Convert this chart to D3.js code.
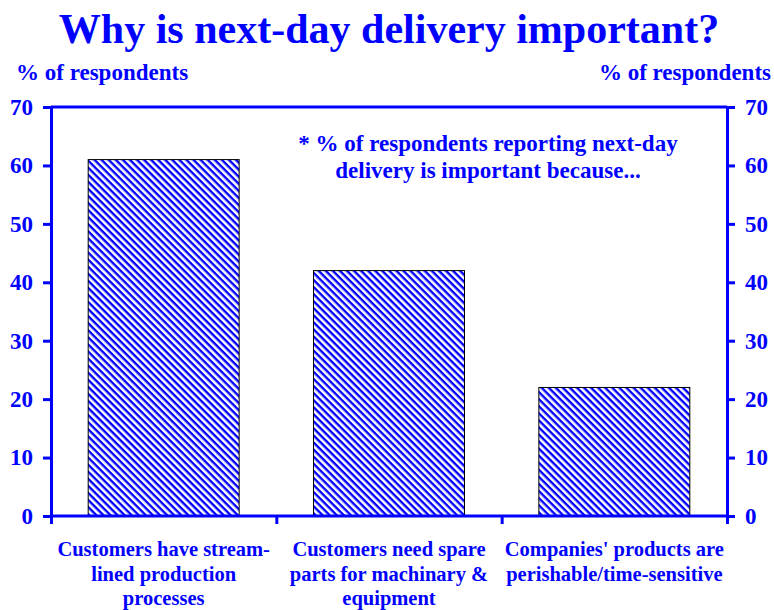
<!DOCTYPE html>
<html>
<head>
<meta charset="utf-8">
<script src="https://cdn.jsdelivr.net/npm/d3@7"></script>
<style>
  body { margin: 0; background: #fff; }
  text { font-family: "Liberation Serif", "Times New Roman", serif; font-weight: bold; fill: #0000ff; }
</style>
</head>
<body>
<svg id="chart" width="774" height="610"></svg>
<script>
"use strict"

const categories = [
    ["Customers have stream-", "lined production", "processes"],
    ["Customers need spare", "parts for machinary &", "equipment"],
    ["Companies' products are", "perishable/time-sensitive"]
]
const values = [61, 42, 22]
const yTicks = [0, 10, 20, 30, 40, 50, 60, 70]
const title = "Why is next-day delivery important?"
const note = ["* % of respondents reporting next-day", "delivery is important because..."]
const axisTitle = "% of respondents"

const blue = "#0000ff"
const svg = d3.select("#chart")
const m = { left: 51, right: 727, top: 107, bottom: 516 }

const x = d3.scaleBand()
    .domain(d3.range(values.length))
    .range([m.left, m.right])
    .paddingInner(0.33)
    .paddingOuter(0.165)

const y = d3.scaleLinear().domain([0, 70]).range([m.bottom, m.top])

// hatch pattern
const defs = svg.append("defs")
const pat = defs.append("pattern")
    .attr("id", "hatch")
    .attr("patternUnits", "userSpaceOnUse")
    .attr("width", 5).attr("height", 5)
    .attr("patternTransform", "rotate(45)")
pat.append("rect").attr("width", 5).attr("height", 5).attr("fill", "#fff")
pat.append("rect").attr("width", 5).attr("height", 2.4).attr("fill", blue)

// title
svg.append("text")
    .attr("x", 389).attr("y", 43)
    .attr("text-anchor", "middle")
    .style("font-size", "42px")
    .text(title)

svg.append("text").attr("x", 16).attr("y", 80)
    .style("font-size", "23px").text(axisTitle)
svg.append("text").attr("x", 771).attr("y", 80)
    .attr("text-anchor", "end")
    .style("font-size", "23px").text(axisTitle)

// bars
svg.append("g").selectAll("rect")
    .data(values)
    .join("rect")
    .attr("x", (d, i) => x(i))
    .attr("width", x.bandwidth())
    .attr("y", d => y(d))
    .attr("height", d => y(0) - y(d))
    .attr("fill", "url(#hatch)")
    .attr("stroke", "#000")
    .attr("stroke-width", 1)

// axes
const left = svg.append("g")
    .attr("transform", `translate(${m.left},0)`)
    .call(d3.axisLeft(y).tickValues(yTicks).tickSize(8).tickPadding(10))
const right = svg.append("g")
    .attr("transform", `translate(${m.right},0)`)
    .call(d3.axisRight(y).tickValues(yTicks).tickSize(8).tickPadding(10))

const xb = d3.scaleLinear().domain([0, values.length]).range([m.left, m.right])
const bottom = svg.append("g")
    .attr("transform", `translate(0,${m.bottom})`)
    .call(d3.axisBottom(xb).tickValues(d3.range(values.length + 1)).tickSize(8).tickFormat(""))

for (const g of [left, right, bottom]) {
    g.selectAll(".domain").attr("stroke", blue).attr("stroke-width", 3)
    g.selectAll(".tick line").attr("stroke", blue).attr("stroke-width", 3)
    g.selectAll(".tick text")
        .style("font-family", "Liberation Serif, serif")
        .style("font-weight", "bold")
        .style("font-size", "23px")
        .attr("fill", blue)
}
bottom.select(".domain").attr("d", `M${m.left},0H${m.right}`)

// top frame
svg.append("line")
    .attr("x1", m.left).attr("x2", m.right)
    .attr("y1", m.top).attr("y2", m.top)
    .attr("stroke", blue).attr("stroke-width", 3)

// note
svg.append("text")
    .attr("text-anchor", "middle")
    .style("font-size", "23px")
    .selectAll("tspan")
    .data(note)
    .join("tspan")
    .attr("x", 488)
    .attr("y", (d, i) => 151 + i * 27)
    .text(d => d)

// category labels
svg.append("g").selectAll("text")
    .data(categories)
    .join("text")
    .attr("text-anchor", "middle")
    .style("font-size", "20.5px")
    .each(function (lines, i) {
        d3.select(this).selectAll("tspan")
            .data(lines)
            .join("tspan")
            .attr("x", x(i) + x.bandwidth() / 2)
            .attr("y", (d, j) => 556 + j * 24.5)
            .text(d => d)
    })
</script>
</body>
</html>
